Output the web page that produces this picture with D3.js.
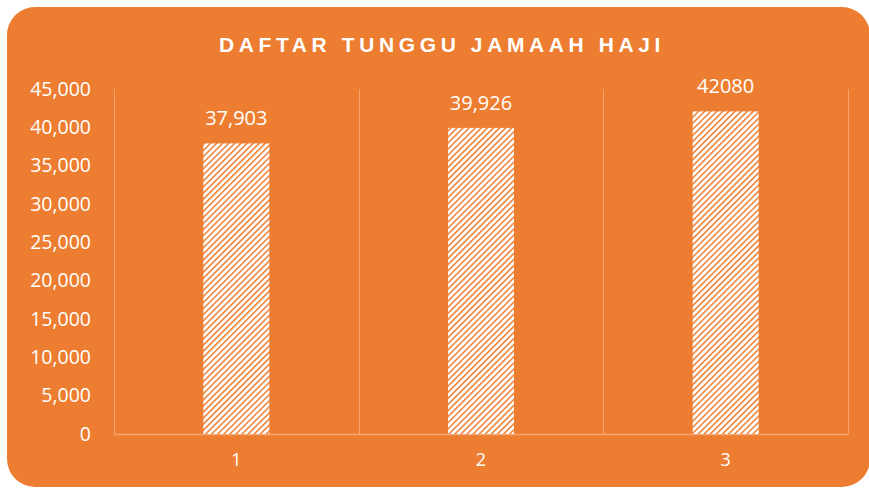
<!DOCTYPE html>
<html>
<head>
<meta charset="utf-8">
<script src="https://cdn.jsdelivr.net/npm/d3@7"></script>
<style>
  html, body { margin: 0; padding: 0; background: #fff; }
  svg { display: block; }
</style>
</head>
<body>
<svg id="chart" width="869" height="488"></svg>
<script>
// chart data
var categories = ["1", "2", "3"];
var values = [37903, 39926, 42080];
var valueLabels = ["37,903", "39,926", "42080"];
var yTicks = [0, 5000, 10000, 15000, 20000, 25000, 30000, 35000, 40000, 45000];
var title = "DAFTAR TUNGGU JAMAAH HAJI";

var svg = d3.select("#chart");
var orange = "#ED7D31";
var gridColor = "#F4A572";
var font = "'Open Sans', Lato, sans-serif";

// rounded card background
svg.append("rect")
  .attr("x", 7).attr("y", 7)
  .attr("width", 863).attr("height", 480)
  .attr("rx", 28).attr("ry", 28)
  .attr("fill", orange);

// hatch pattern (wide upward diagonal)
var hatchSize = 4.3;
var defs = svg.append("defs");
var pat = defs.append("pattern")
  .attr("id", "hatch")
  .attr("patternUnits", "userSpaceOnUse")
  .attr("width", hatchSize).attr("height", hatchSize)
  .attr("patternTransform", "rotate(45)");
pat.append("rect").attr("width", hatchSize).attr("height", hatchSize).attr("fill", "#fff");
pat.append("rect").attr("x", 0).attr("y", 0).attr("width", 1.5).attr("height", hatchSize).attr("fill", orange);

// plot area bounds (named so they don't clash with window.top)
var plotLeft = 114, plotRight = 848, plotTop = 89, plotBottom = 434;

var x = d3.scaleBand().domain(categories).range([plotLeft, plotRight]).paddingInner(0).paddingOuter(0);
var y = d3.scaleLinear().domain([0, 45000]).range([plotBottom, plotTop]);

// title
svg.append("text")
  .attr("x", 442).attr("y", 52)
  .attr("text-anchor", "middle")
  .attr("font-family", "'Liberation Sans', Arial, sans-serif")
  .attr("font-weight", "bold")
  .attr("font-size", 21)
  .attr("letter-spacing", 4.6)
  .attr("fill", "#fff")
  .text(title);

// vertical gridlines at category boundaries
var bounds = categories.map(function(c) { return x(c); }).concat([plotRight]);
svg.append("g").selectAll("line")
  .data(bounds)
  .enter().append("line")
  .attr("x1", function(d) { return Math.round(d) + 0.5; })
  .attr("x2", function(d) { return Math.round(d) + 0.5; })
  .attr("y1", plotTop).attr("y2", plotBottom)
  .attr("stroke", gridColor).attr("stroke-width", 1);

// y axis
var yAxis = svg.append("g")
  .attr("transform", "translate(" + (plotLeft - 20) + ",0)")
  .call(d3.axisLeft(y).tickValues(yTicks).tickSize(0).tickFormat(d3.format(",")));
yAxis.select(".domain").remove();
yAxis.selectAll("text")
  .attr("fill", "#fff")
  .attr("font-family", font)
  .attr("font-size", 19.5);

// x axis
var xAxis = svg.append("g")
  .attr("transform", "translate(0," + plotBottom + ")")
  .call(d3.axisBottom(x).tickSize(0));
xAxis.select(".domain")
  .attr("stroke", gridColor)
  .attr("stroke-width", 1.5);
xAxis.selectAll("text")
  .attr("fill", "#fff")
  .attr("font-family", font)
  .attr("font-size", 18)
  .attr("dy", "1.6em");

// bars
var barW = 66;
svg.append("g").selectAll("rect")
  .data(values)
  .enter().append("rect")
  .attr("x", function(d, i) { return x(categories[i]) + x.bandwidth() / 2 - barW / 2; })
  .attr("y", function(d) { return y(d); })
  .attr("width", barW)
  .attr("height", function(d) { return plotBottom - y(d); })
  .attr("fill", "url(#hatch)");

// value labels
svg.append("g").selectAll("text")
  .data(values)
  .enter().append("text")
  .attr("x", function(d, i) { return x(categories[i]) + x.bandwidth() / 2; })
  .attr("y", function(d) { return y(d) - 18; })
  .attr("text-anchor", "middle")
  .attr("font-family", font)
  .attr("font-size", 20)
  .attr("fill", "#fff")
  .text(function(d, i) { return valueLabels[i]; });
</script>
</body>
</html>
